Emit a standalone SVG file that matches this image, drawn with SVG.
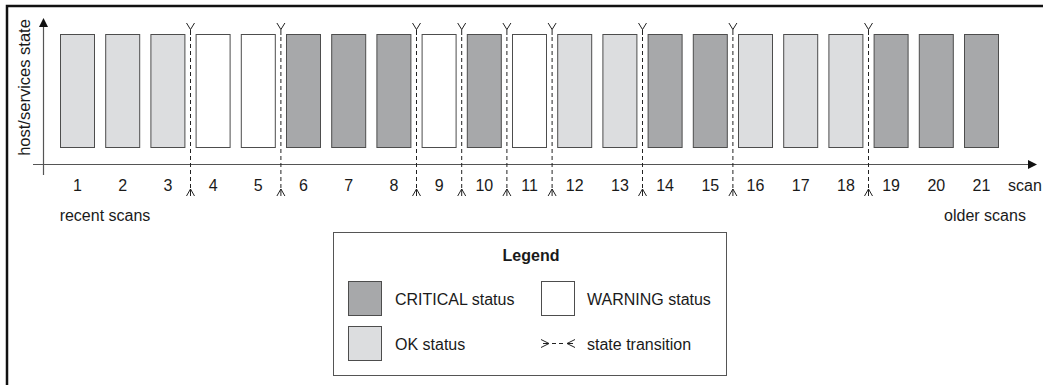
<svg xmlns="http://www.w3.org/2000/svg" width="1043" height="385" viewBox="0 0 1043 385">
<style>
text{font-family:"Liberation Sans",Arial,sans-serif;font-size:16px;fill:#1a1a1a}
.ok{fill:#dcdddf;stroke:#4d4d4d;stroke-width:1}
.cr{fill:#a7a8aa;stroke:#4d4d4d;stroke-width:1}
.wn{fill:#ffffff;stroke:#4d4d4d;stroke-width:1}
.axis{stroke:#555;stroke-width:1.2;fill:none}
.dash{stroke:#222;stroke-width:1;stroke-dasharray:4 3;fill:none}
.mk{stroke:#222;stroke-width:1;fill:none}
.num{text-anchor:middle}
</style>
<defs>
<g id="trans">
<path class="mk" d="M-4,23 L0,29.5 L4,23 M0,29.5 V35"/>
<path class="dash" d="M0,37 V189"/>
<path class="mk" d="M-4,196 L0,189 L4,196 M0,189 V196"/>
</g>
</defs>
<path d="M7,385 V6 H1043" fill="none" stroke="#111" stroke-width="2.5"/>
<g id="axes">
<path class="axis" d="M43.5,175 V26"/>
<path d="M43.5,18 L39,27 L48,27 Z" fill="#111"/>
<path class="axis" d="M33,164.5 H1029"/>
<path d="M1037,164.5 L1028,160 L1028,169 Z" fill="#111"/>
<text transform="translate(30,87.5) rotate(-90)" text-anchor="middle" style="font-size:16.5px">host/services state</text>
<text x="1008" y="191">scan</text>
<text x="105" y="221" text-anchor="middle">recent scans</text>
<text x="985" y="221" text-anchor="middle">older scans</text>
</g>
<g id="bars">
<rect id="bar1" class="ok" x="60.5" y="34.5" width="34" height="113"/>
<rect id="bar2" class="ok" x="105.7" y="34.5" width="34" height="113"/>
<rect id="bar3" class="ok" x="150.9" y="34.5" width="34" height="113"/>
<rect id="bar4" class="wn" x="196.1" y="34.5" width="34" height="113"/>
<rect id="bar5" class="wn" x="241.3" y="34.5" width="34" height="113"/>
<rect id="bar6" class="cr" x="286.5" y="34.5" width="34" height="113"/>
<rect id="bar7" class="cr" x="331.7" y="34.5" width="34" height="113"/>
<rect id="bar8" class="cr" x="376.9" y="34.5" width="34" height="113"/>
<rect id="bar9" class="wn" x="422.1" y="34.5" width="34" height="113"/>
<rect id="bar10" class="cr" x="467.3" y="34.5" width="34" height="113"/>
<rect id="bar11" class="wn" x="512.5" y="34.5" width="34" height="113"/>
<rect id="bar12" class="ok" x="557.7" y="34.5" width="34" height="113"/>
<rect id="bar13" class="ok" x="602.9" y="34.5" width="34" height="113"/>
<rect id="bar14" class="cr" x="648.1" y="34.5" width="34" height="113"/>
<rect id="bar15" class="cr" x="693.3" y="34.5" width="34" height="113"/>
<rect id="bar16" class="ok" x="738.5" y="34.5" width="34" height="113"/>
<rect id="bar17" class="ok" x="783.7" y="34.5" width="34" height="113"/>
<rect id="bar18" class="ok" x="828.9" y="34.5" width="34" height="113"/>
<rect id="bar19" class="cr" x="874.1" y="34.5" width="34" height="113"/>
<rect id="bar20" class="cr" x="919.3" y="34.5" width="34" height="113"/>
<rect id="bar21" class="cr" x="964.5" y="34.5" width="34" height="113"/>
</g>
<g id="labels" class="num">
<text x="77.5" y="191">1</text>
<text x="122.7" y="191">2</text>
<text x="167.9" y="191">3</text>
<text x="213.1" y="191">4</text>
<text x="258.3" y="191">5</text>
<text x="303.5" y="191">6</text>
<text x="348.7" y="191">7</text>
<text x="393.9" y="191">8</text>
<text x="439.1" y="191">9</text>
<text x="484.3" y="191">10</text>
<text x="529.5" y="191">11</text>
<text x="574.7" y="191">12</text>
<text x="619.9" y="191">13</text>
<text x="665.1" y="191">14</text>
<text x="710.3" y="191">15</text>
<text x="755.5" y="191">16</text>
<text x="800.7" y="191">17</text>
<text x="845.9" y="191">18</text>
<text x="891.1" y="191">19</text>
<text x="936.3" y="191">20</text>
<text x="981.5" y="191">21</text>
</g>
<g id="connectors">
<use href="#trans" x="190.5"/>
<use href="#trans" x="280.9"/>
<use href="#trans" x="416.5"/>
<use href="#trans" x="461.7"/>
<use href="#trans" x="506.9"/>
<use href="#trans" x="552.1"/>
<use href="#trans" x="642.5"/>
<use href="#trans" x="732.9"/>
<use href="#trans" x="868.5"/>
</g>
<g id="legend">
<rect x="333.5" y="232.5" width="393" height="143" fill="#fff" stroke="#555" stroke-width="1"/>
<text x="531" y="261" text-anchor="middle" font-weight="bold">Legend</text>
<rect class="cr" x="348.5" y="281.5" width="33" height="34"/>
<text x="395" y="305">CRITICAL status</text>
<rect class="wn" x="541.5" y="281.5" width="33" height="34"/>
<text x="587" y="305">WARNING status</text>
<rect class="ok" x="348.5" y="326.5" width="33" height="34"/>
<text x="395" y="350">OK status</text>
<path class="mk" d="M541,339.5 L549,343.5 L541,347.5 M543,343.5 H549"/>
<path class="dash" d="M552,343.5 H566" stroke-dasharray="4 3"/>
<path class="mk" d="M575,339.5 L567,343.5 L575,347.5 M567,343.5 H573"/>
<text x="587" y="350">state transition</text>
</g>
</svg>
